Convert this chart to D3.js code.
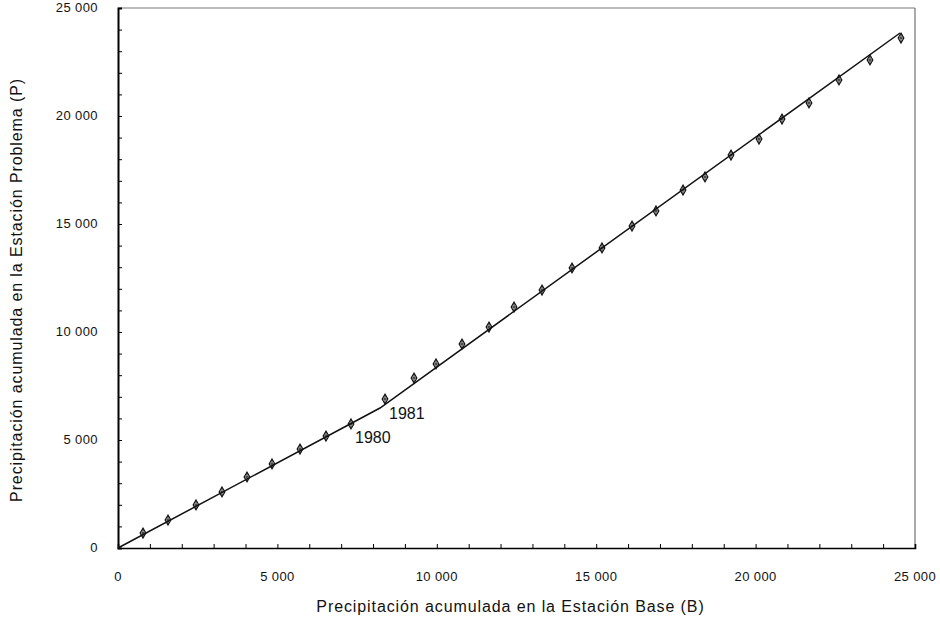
<!DOCTYPE html>
<html>
<head>
<meta charset="utf-8">
<script src="https://cdnjs.cloudflare.com/ajax/libs/d3/7.8.5/d3.min.js"></script>
<style>
  body { margin: 0; background: #fff; }
  svg text { font-family: "Liberation Sans", Arial, sans-serif; fill: #111; }
</style>
</head>
<body>
<div id="chart"></div>
<script>
// accumulated precipitation, base station (B) vs problem station (P)
var baseAcum = [784, 1568, 2447, 3262, 4046, 4831, 5709, 6524, 7309, 8375,
                9285, 9975, 10790, 11637, 12422, 13300, 14241, 15182, 16123, 16876,
                17723, 18413, 19228, 20107, 20828, 21675, 22616, 23588, 24561];
var probAcum = [694, 1296, 1991, 2593, 3287, 3889, 4583, 5185, 5741, 6898,
                7870, 8519, 9444, 10231, 11157, 11944, 12963, 13889, 14907, 15602,
                16574, 17176, 18194, 18935, 19861, 20602, 21667, 22593, 23611];
// fitted double-mass line with break between 1980 and 1981
var lineB = [0, 8218, 24530];
var lineP = [0, 6481, 23843];
var yearLabels = ["1980", "1981"];
var yearIdx = [8, 9];
var tickVals = [0, 5000, 10000, 15000, 20000, 25000];
var tickText = ["0", "5 000", "10 000", "15 000", "20 000", "25 000"];

var W = 940, H = 630;
var margin = {top: 8, right: 25, bottom: 82, left: 118};
var width = W - margin.left - margin.right,
    height = H - margin.top - margin.bottom;

var svg = d3.select("#chart").append("svg")
    .attr("width", W).attr("height", H);
var g = svg.append("g")
    .attr("transform", "translate(" + margin.left + "," + margin.top + ")");

var x = d3.scaleLinear().domain([0, 25000]).range([0, width]);
var y = d3.scaleLinear().domain([0, 25000]).range([height, 0]);

// frame (top and right thin)
g.append("line").attr("x1", 0).attr("x2", width).attr("y1", 0).attr("y2", 0)
    .attr("stroke", "#777").attr("stroke-width", 1);
g.append("line").attr("x1", width).attr("x2", width).attr("y1", 0).attr("y2", height)
    .attr("stroke", "#555").attr("stroke-width", 1);

// minor ticks every 1000, pointing inward
var minor = d3.range(1000, 25000, 1000);
var xAxis = d3.axisBottom(x).tickValues(minor).tickSize(-4).tickFormat("");
var yAxis = d3.axisLeft(y).tickValues(minor).tickSize(-4).tickFormat("");
g.append("g").attr("transform", "translate(0," + height + ")").call(xAxis)
    .call(function(s) { s.select(".domain").attr("stroke-width", 1.6); });
g.append("g").call(yAxis)
    .call(function(s) { s.select(".domain").attr("stroke-width", 2); });

// tick labels
g.selectAll(".xl").data(tickVals).enter().append("text")
    .attr("x", function(d) { return x(d); })
    .attr("y", height + 33)
    .attr("text-anchor", "middle")
    .attr("font-size", 13)
    .attr("letter-spacing", 0.4)
    .text(function(d, i) { return tickText[i]; });
g.selectAll(".yl").data(tickVals).enter().append("text")
    .attr("x", -20)
    .attr("y", function(d) { return y(d) + 4; })
    .attr("text-anchor", "end")
    .attr("font-size", 13)
    .attr("letter-spacing", 0.4)
    .text(function(d, i) { return tickText[i]; });

// fitted line
var pts = lineB.map(function(b, i) { return [b, lineP[i]]; });
g.append("path")
    .datum(pts)
    .attr("fill", "none")
    .attr("stroke", "#111")
    .attr("stroke-width", 1.5)
    .attr("d", d3.line().x(function(d) { return x(d[0]); }).y(function(d) { return y(d[1]); }));

// markers: small diamond with cross
var data = baseAcum.map(function(b, i) { return {b: b, p: probAcum[i]}; });
var mk = g.selectAll(".mk").data(data).enter().append("g")
    .attr("transform", function(d) { return "translate(" + x(d.b) + "," + y(d.p) + ")"; });
mk.append("path")
    .attr("d", d3.symbol().type(d3.symbolDiamond).size(28))
    .attr("fill", "none").attr("stroke", "#111").attr("stroke-width", 1.2);
mk.append("path")
    .attr("d", "M-3,0H3M0,-4V4")
    .attr("stroke", "#111").attr("stroke-width", 1);

// year labels
g.selectAll(".yr").data(yearIdx).enter().append("text")
    .attr("x", function(d) { return x(baseAcum[d]) + 4; })
    .attr("y", function(d, i) { return y(probAcum[d]) + (i === 0 ? 19 : 20); })
    .attr("font-size", 16)
    .text(function(d, i) { return yearLabels[i]; });

// axis titles
svg.append("text")
    .attr("x", margin.left + width / 2 - 6)
    .attr("y", 612)
    .attr("text-anchor", "middle")
    .attr("font-size", 16)
    .attr("letter-spacing", 0.9)
    .text("Precipitación acumulada en la Estación Base (B)");
svg.append("text")
    .attr("transform", "translate(22," + (margin.top + height / 2 + 12) + ") rotate(-90)")
    .attr("text-anchor", "middle")
    .attr("font-size", 16)
    .attr("letter-spacing", 0.9)
    .text("Precipitación acumulada en la Estación Problema (P)");
</script>
</body>
</html>
